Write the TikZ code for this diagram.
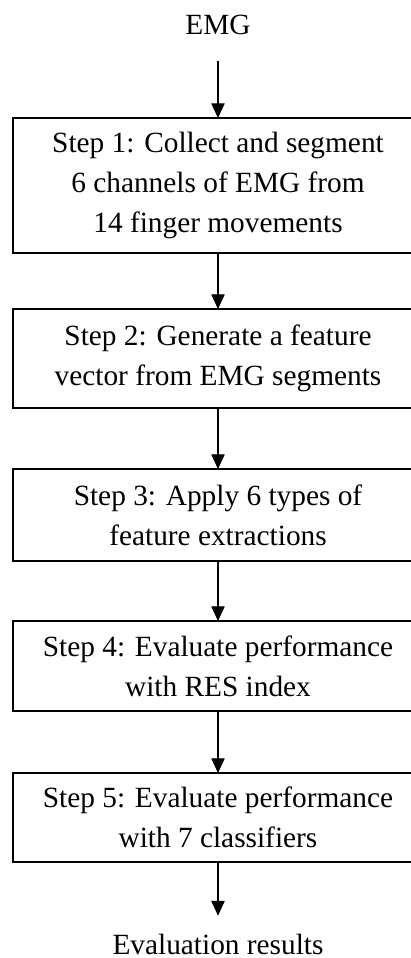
\documentclass[tikz,border=0pt]{standalone}
\usepackage{fontspec}
\setmainfont{Liberation Serif}
\usetikzlibrary{arrows.meta}
\tikzset{
  stepbox/.style={minimum width=307.5pt,align=center,outer sep=0pt,
    font=\fontsize{22}{30}\selectfont},
  lbl/.style={font=\fontsize{22}{30}\selectfont},
  edge/.style={line width=1.1pt},
  arr/.style={-{Triangle[width=10pt,length=11pt]},line width=0.8pt}
}
\begin{document}
\begin{tikzpicture}[x=0.75pt,y=-0.75pt]
    \useasboundingbox (0,0) rectangle (411,958);
    \clip (0,0) rectangle (411,958);
    \node[lbl] (emg) at (218,25) {EMG};
    \node[stepbox,minimum height=101.25pt] (s1) at (218,185.5) {Step 1: Collect and segment\\6 channels of EMG from\\14 finger movements};
    \node[stepbox,minimum height=74.25pt] (s2) at (218,358.5) {Step 2: Generate a feature\\vector from EMG segments};
    \node[stepbox,minimum height=69pt] (s3) at (218,515) {Step 3: Apply 6 types of\\feature extractions};
    \node[stepbox,minimum height=67.5pt] (s4) at (218,666) {Step 4: Evaluate performance\\with RES index};
    \node[stepbox,minimum height=66.75pt] (s5) at (218,817.5) {Step 5: Evaluate performance\\with 7 classifiers};
    \node[lbl] (res) at (218,944) {Evaluation results};
    % boxes run off the right edge
    \foreach \s in {s1,s2,s3,s4,s5}
        \draw[edge] (\s.north east) -- (\s.north west) -- (\s.south west) -- (\s.south east);
    \draw[arr,shorten <=16pt] (emg) -- (s1);
    \draw[arr] (s1) -- (s2);
    \draw[arr] (s2) -- (s3);
    \draw[arr] (s3) -- (s4);
    \draw[arr] (s4) -- (s5);
    \draw[arr,shorten >=10pt] (s5) -- (res);
\end{tikzpicture}
\end{document}
